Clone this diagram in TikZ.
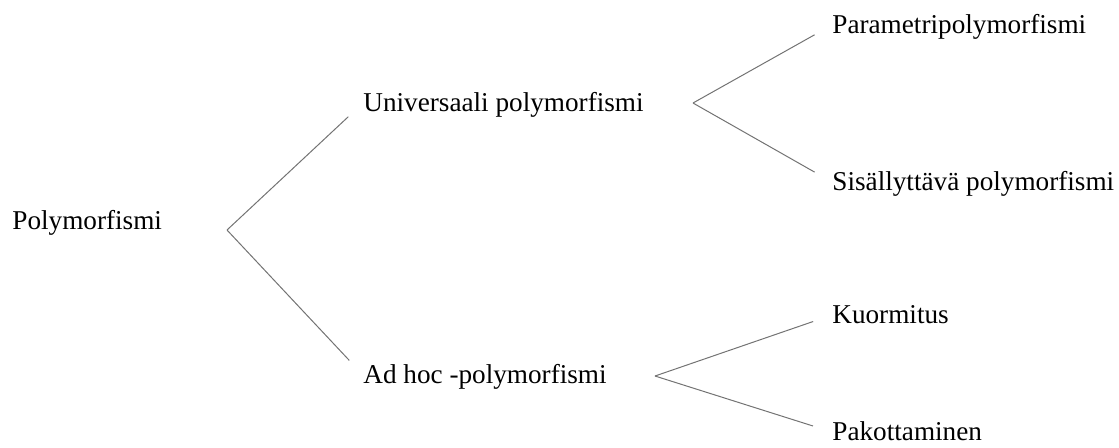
\documentclass[tikz,border=0pt]{standalone}
\usepackage{fontspec}
\setmainfont{Liberation Serif}

\begin{document}
\begin{tikzpicture}[x=0.5pt,y=-0.5pt]
    \useasboundingbox (0,0) rectangle (1119,447);
    \begin{scope}[font=\fontsize{13.6}{16}\selectfont,
        term/.style={anchor=west, inner sep=0pt, text height=0.86em, text depth=0pt},
        branch/.style={draw=black!55, line width=0.5pt, shorten >=10pt}]

        \node [term] (poly)  at (12,221)  {Polymorfismi};
        \node [term] (univ)  at (363,103) {Universaali polymorfismi};
        \node [term] (adhoc) at (363,375) {Ad hoc -polymorfismi};
        \node [term] (param) at (832,25)  {Parametripolymorfismi};
        \node [term] (sisal) at (832,182) {Sisällyttävä polymorfismi};
        \node [term] (kuorm) at (832,315) {Kuormitus};
        \node [term] (pakot) at (832,432) {Pakottaminen};

        \coordinate (p-fork) at (227,230);
        \coordinate (u-fork) at (693,103);
        \coordinate (a-fork) at (655,376);

        \foreach \from/\to in {p-fork/univ, p-fork/adhoc, u-fork/param,
                               u-fork/sisal, a-fork/kuorm, a-fork/pakot}{%
            \draw [branch] (\from) -- (\to.west);
        }
    \end{scope}
\end{tikzpicture}
\end{document}
